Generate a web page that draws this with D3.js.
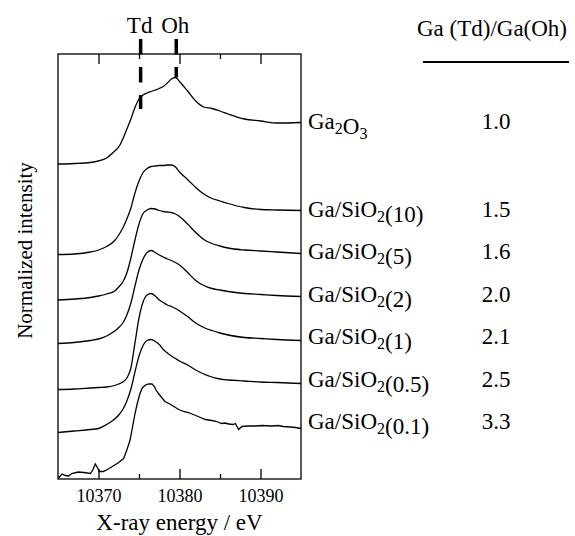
<!DOCTYPE html>
<html>
<head>
<meta charset="utf-8">
<script src="https://cdn.jsdelivr.net/npm/d3@7"></script>
<style>
  body { margin: 0; background: #fff; }
  svg { display: block; }
</style>
</head>
<body>
<div id="chart"></div>
<script>
// energy grid (eV) shared by the smooth spectra
var energies = [10365, 10367, 10369, 10370, 10371, 10372, 10372.5, 10373, 10373.5, 10374,
  10374.5, 10375, 10375.5, 10376, 10376.5, 10377, 10377.5, 10378, 10378.5, 10379,
  10379.5, 10380, 10381, 10382, 10383, 10384, 10385, 10386, 10388, 10390, 10392, 10395];

var ga2o3 = [0.00, 0.01, 0.03, 0.06, 0.12, 0.26, 0.34, 0.50, 0.70, 0.90, 1.13, 1.30, 1.38, 1.42, 1.45, 1.48,
  1.51, 1.55, 1.62, 1.70, 1.73, 1.65, 1.46, 1.26, 1.14, 1.11, 1.06, 1.00, 0.90, 0.86, 0.82, 0.83];
var gaSi10 = [0.00, 0.01, 0.05, 0.09, 0.16, 0.28, 0.39, 0.53, 0.71, 0.93, 1.23, 1.47, 1.64, 1.72, 1.76, 1.77,
  1.78, 1.78, 1.79, 1.79, 1.75, 1.65, 1.50, 1.34, 1.21, 1.12, 1.07, 1.02, 0.94, 0.90, 0.89, 0.88];
var gaSi5 = [0.00, 0.02, 0.05, 0.08, 0.12, 0.18, 0.26, 0.36, 0.54, 0.84, 1.20, 1.52, 1.73, 1.80, 1.83, 1.82,
  1.79, 1.77, 1.76, 1.75, 1.72, 1.67, 1.52, 1.35, 1.21, 1.13, 1.08, 1.04, 1.00, 0.98, 0.96, 0.93];
var gaSi2 = [0.00, 0.02, 0.06, 0.09, 0.15, 0.25, 0.32, 0.41, 0.57, 0.81, 1.15, 1.47, 1.69, 1.82, 1.86, 1.82,
  1.77, 1.73, 1.69, 1.66, 1.62, 1.57, 1.42, 1.26, 1.16, 1.10, 1.07, 1.04, 1.00, 0.98, 0.96, 0.94];
var gaSi1 = [0.00, 0.01, 0.03, 0.04, 0.05, 0.08, 0.11, 0.15, 0.23, 0.43, 0.93, 1.43, 1.75, 1.89, 1.92, 1.87,
  1.79, 1.74, 1.69, 1.66, 1.62, 1.57, 1.46, 1.33, 1.24, 1.18, 1.13, 1.09, 1.04, 1.02, 1.00, 0.98];
var gaSi05 = [0.00, 0.03, 0.06, 0.08, 0.16, 0.27, 0.35, 0.46, 0.63, 0.87, 1.21, 1.53, 1.74, 1.84, 1.86, 1.82,
  1.76, 1.66, 1.59, 1.53, 1.48, 1.43, 1.35, 1.25, 1.17, 1.11, 1.07, 1.05, 1.03, 1.01, 1.00, 0.98];

// the 0.1 sample is noisy, it has its own energy points
var energies01 = [10365, 10365.5, 10365.9, 10366.3, 10366.7, 10367.5, 10368.2, 10369, 10369.3, 10369.6,
  10369.9, 10370.1, 10370.6, 10371.2, 10371.8, 10372.4, 10373.1, 10373.5, 10373.9, 10374.2,
  10374.5, 10374.8, 10375.1, 10375.4, 10375.8, 10376.2, 10376.6, 10376.9, 10377.1, 10377.4,
  10377.8, 10378.2, 10378.8, 10379.5, 10379.9, 10380.5, 10381.1, 10381.7, 10382.3, 10383.2,
  10384, 10384.6, 10385.2, 10385.6, 10386.1, 10386.6, 10386.9, 10387.3, 10387.7, 10388.5,
  10389.4, 10390.2, 10391.4, 10392.2, 10392.8, 10393.7, 10394.3, 10395];
var gaSi01 = [0.01, 0.10, 0.07, 0.06, 0.11, 0.14, 0.13, 0.11, 0.18, 0.30,
  0.22, 0.15, 0.15, 0.20, 0.26, 0.32, 0.41, 0.58, 0.78, 1.04,
  1.30, 1.52, 1.70, 1.82, 1.88, 1.90, 1.90, 1.85, 1.78, 1.71,
  1.63, 1.55, 1.50, 1.43, 1.39, 1.35, 1.33, 1.29, 1.25, 1.19,
  1.17, 1.15, 1.11, 1.12, 1.10, 1.09, 1.11, 0.99, 1.05, 1.06,
  1.06, 1.07, 1.06, 1.07, 1.05, 1.04, 1.03, 1.01];

var samples = ["Ga{2}O{3}", "Ga/SiO{2}(10)", "Ga/SiO{2}(5)", "Ga/SiO{2}(2)", "Ga/SiO{2}(1)", "Ga/SiO{2}(0.5)", "Ga/SiO{2}(0.1)"];
var ratios = ["1.0", "1.5", "1.6", "2.0", "2.1", "2.5", "3.3"];
var offsets = [6.3, 4.49, 3.58, 2.71, 1.79, 0.93, 0];

// Td / Oh marker energies and where the marker stops (stacked intensity)
var markerNames = ["Td", "Oh"];
var markerEnergy = [10375.2, 10379.6];
var markerEnd = [7.4, 8.03];

var serif = "Liberation Serif";
var width = 575, height = 536;
var margin = {top: 54, right: 274, bottom: 57, left: 58};

var svg = d3.select("#chart").append("svg")
    .attr("width", width)
    .attr("height", height);

var x = d3.scaleLinear()
    .domain([10365, 10395])
    .range([margin.left, width - margin.right]);

var y = d3.scaleLinear()
    .domain([0, 8.5])
    .range([height - margin.bottom, margin.top]);

var series = [ga2o3, gaSi10, gaSi5, gaSi2, gaSi1, gaSi05, gaSi01].map(function(vals, i) {
    var ens = i == 6 ? energies01 : energies;
    return vals.map(function(v, j) { return {e: ens[j], v: v + offsets[i]}; });
});

var smooth = d3.line()
    .x(function(d) { return x(d.e); })
    .y(function(d) { return y(d.v); })
    .curve(d3.curveMonotoneX);

var rough = d3.line()
    .x(function(d) { return x(d.e); })
    .y(function(d) { return y(d.v); });

svg.append("g")
    .selectAll("path")
    .data(series)
    .enter().append("path")
    .attr("d", function(d, i) { return i == 6 ? rough(d) : smooth(d); })
    .attr("fill", "none")
    .attr("stroke", "#000")
    .attr("stroke-width", 1.3);

// axes, ticks pointing in
var x0 = x.range()[0], x1 = x.range()[1], yb = y.range()[0], yt = y.range()[1];
var major = [10370, 10380, 10390], minor = [10375, 10385];

function tickAxis(axis, vals, size) {
    return axis.tickValues(vals).tickSize(-size).tickSizeOuter(0);
}

var bottom = svg.append("g")
    .attr("transform", "translate(0," + yb + ")")
    .call(tickAxis(d3.axisBottom(x), major, 10).tickPadding(10).tickFormat(d3.format("d")));
svg.append("g")
    .attr("transform", "translate(0," + yb + ")")
    .call(tickAxis(d3.axisBottom(x), minor, 5).tickFormat(""));
svg.append("g")
    .attr("transform", "translate(0," + yt + ")")
    .call(tickAxis(d3.axisTop(x), major, 10).tickFormat(""));
svg.append("g")
    .attr("transform", "translate(0," + yt + ")")
    .call(tickAxis(d3.axisTop(x), minor, 5).tickFormat(""));

svg.selectAll(".tick line").attr("stroke", "#000").attr("stroke-width", 1.3);
svg.selectAll(".domain").remove();
bottom.selectAll("text")
    .attr("font-size", 18)
    .attr("fill", "#000");

svg.append("rect")
    .attr("x", x0).attr("y", yt)
    .attr("width", x1 - x0).attr("height", yb - yt)
    .attr("fill", "none")
    .attr("stroke", "#000")
    .attr("stroke-width", 1.3);

// Td / Oh markers
markerNames.forEach(function(name, i) {
    var mx = x(markerEnergy[i]);
    svg.append("line")
        .attr("x1", mx).attr("x2", mx)
        .attr("y1", yt - 15).attr("y2", y(markerEnd[i]))
        .attr("stroke", "#000")
        .attr("stroke-width", 3.5)
        .attr("stroke-dasharray", "15.5,12.5");
    svg.append("text")
        .attr("x", mx - 1)
        .attr("y", 33)
        .attr("text-anchor", "middle")
        .attr("font-size", 23)
        .text(name);
});

// sample labels with subscripts
function subText(sel, str) {
    str.split(/(\{\d\})/).forEach(function(part) {
        if (!part) return;
        if (part[0] == "{") {
            sel.append("tspan").attr("dy", 5).attr("font-size", 16).text(part.slice(1, -1));
            sel.append("tspan").attr("dy", -5).text("");
        } else {
            sel.append("tspan").text(part);
        }
    });
}

var labelStep = 42.4;
var firstY = y(series[1][series[1].length - 1].v);

samples.forEach(function(s, i) {
    var ly = i == 0 ? y(series[0][series[0].length - 1].v) : firstY + (i - 1) * labelStep;
    var t = svg.append("text")
        .attr("x", x1 + 7)
        .attr("y", ly + 6.5)
        .attr("font-size", 23);
    subText(t, s);
    svg.append("text")
        .attr("x", 496)
        .attr("y", ly + 6.5)
        .attr("text-anchor", "middle")
        .attr("font-size", 23)
        .text(ratios[i]);
});

// header of the ratio column
svg.append("text")
    .attr("x", 492)
    .attr("y", 36)
    .attr("text-anchor", "middle")
    .attr("font-size", 23)
    .text("Ga (Td)/Ga(Oh)");
svg.append("line")
    .attr("x1", 423).attr("x2", 569)
    .attr("y1", 62).attr("y2", 62)
    .attr("stroke", "#000")
    .attr("stroke-width", 2);

// axis titles
svg.append("text")
    .attr("x", (x0 + x1) / 2)
    .attr("y", 530)
    .attr("text-anchor", "middle")
    .attr("font-size", 23)
    .text("X-ray energy / eV");

svg.append("text")
    .attr("transform", "translate(32," + ((yt + yb) / 2 - 16) + ") rotate(-90)")
    .attr("text-anchor", "middle")
    .attr("font-size", 21)
    .text("Normalized intensity");

svg.selectAll("text").style("font-family", serif);
</script>
</body>
</html>
